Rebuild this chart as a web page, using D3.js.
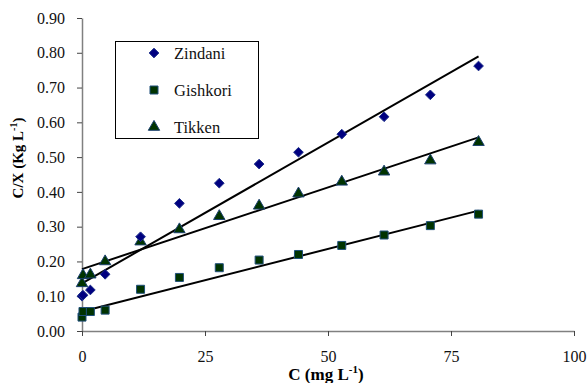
<!DOCTYPE html>
<html>
<head>
<meta charset="utf-8">
<script src="https://cdn.jsdelivr.net/npm/d3@7"></script>
<style>
  body { margin: 0; background: #fff; }
  svg text { font-family: "Liberation Serif", "Times New Roman", Times, serif; }
</style>
</head>
<body>
<svg id="vis"></svg>
<script>
// concentrations C (mg/L), shared by all three soils
const conc = [0, 0.2, 1.7, 4.7, 11.9, 19.8, 27.9, 36, 44, 52.8, 61.4, 70.8, 80.6];
const zindani = [0.100, 0.103, 0.118, 0.163, 0.271, 0.367, 0.425, 0.480, 0.514, 0.566, 0.616, 0.679, 0.762];
const gishkori = [0.040, 0.056, 0.056, 0.060, 0.120, 0.154, 0.182, 0.204, 0.220, 0.246, 0.276, 0.303, 0.336];
const tikken = [0.137, 0.160, 0.162, 0.200, 0.257, 0.292, 0.330, 0.360, 0.395, 0.429, 0.458, 0.490, 0.543];
const seriesNames = ["Zindani", "Gishkori", "Tikken"];
// linear trend lines
const trendIntercept = [0.137, 0.056, 0.178];
const trendSlope = [0.0081, 0.0036, 0.0047];
const xTicks = [0, 25, 50, 75, 100];
const yTicks = [0, 0.1, 0.2, 0.3, 0.4, 0.5, 0.6, 0.7, 0.8, 0.9];

const W = 588, H = 383;
const m = {left: 82, top: 18, right: 14, bottom: 52};
const svg = d3.select("#vis").attr("width", W).attr("height", H);

const x = d3.scaleLinear().domain([0, 100]).range([m.left, W - m.right]);
const y = d3.scaleLinear().domain([0, 0.9]).range([H - m.bottom, m.top]);

const styles = [
    {sym: d3.symbolDiamond2, size: 60, fill: "#000080", stroke: "#1c2e8a"},
    {sym: d3.symbolSquare, size: 64, fill: "#003300", stroke: "#1f4f7a"},
    {sym: d3.symbolTriangle, size: 56, fill: "#003300", stroke: "#1a3f6f"}
];

// axes
const yAxis = svg.append("g").attr("transform", `translate(${m.left},0)`)
    .call(d3.axisLeft(y).tickValues(yTicks).tickFormat(d3.format(".2f")).tickSize(5).tickSizeOuter(0));
const xAxis = svg.append("g").attr("transform", `translate(0,${H - m.bottom})`)
    .call(d3.axisBottom(x).tickValues(xTicks).tickSize(5).tickSizeOuter(0));
[xAxis, yAxis].forEach(a => {
    a.attr("font-family", null);
    a.select(".domain").attr("stroke", "#808080").attr("stroke-width", 1.5);
    a.selectAll(".tick line").attr("stroke", "#444");
    a.selectAll(".tick text").attr("font-size", 16).attr("fill", "#111");
});
yAxis.selectAll(".tick text").attr("x", -17);
xAxis.selectAll(".tick text").attr("y", 20);

// trend lines
const trendData = seriesNames.map((n, i) => [0, conc[conc.length - 1]].map(c => [c, trendIntercept[i] + trendSlope[i] * c]));
svg.append("g").selectAll("path").data(trendData).join("path")
    .attr("d", d3.line().x(d => x(d[0])).y(d => y(d[1])))
    .attr("fill", "none").attr("stroke", "#000").attr("stroke-width", 2);

// markers
const allSeries = [zindani, gishkori, tikken];
const drawOrder = [1, 2, 0];
drawOrder.forEach(i => {
    const st = styles[i];
    svg.append("g").selectAll("path").data(allSeries[i].map((v, j) => [conc[j], v])).join("path")
        .attr("transform", d => `translate(${x(d[0])},${y(d[1])})`)
        .attr("d", d3.symbol(st.sym, st.size))
        .attr("fill", st.fill).attr("stroke", st.stroke).attr("stroke-width", 1);
});

// legend
const lg = svg.append("g");
lg.append("rect").attr("x", 115.5).attr("y", 41.5).attr("width", 143).attr("height", 97)
    .attr("fill", "#fff").attr("stroke", "#000").attr("stroke-width", 1);
seriesNames.forEach((n, i) => {
    const yy = 53 + i * 37;
    const st = styles[i];
    lg.append("path").attr("transform", `translate(154,${yy})`)
        .attr("d", d3.symbol(st.sym, st.size))
        .attr("fill", st.fill).attr("stroke", st.stroke);
    lg.append("text").attr("x", 174).attr("y", yy + 5.5).attr("font-size", 16.5).attr("fill", "#111").text(n);
});

// axis titles
const xt = svg.append("text").attr("x", 326).attr("y", 380).attr("text-anchor", "middle")
    .attr("font-size", 17).attr("font-weight", "bold");
xt.append("tspan").text("C (mg L");
xt.append("tspan").attr("font-size", 11).attr("dy", -7).text("-1");
xt.append("tspan").attr("dy", 7).text(")");

const yt = svg.append("text").attr("transform", "translate(23,158) rotate(-90)").attr("text-anchor", "middle")
    .attr("font-size", 15).attr("font-weight", "bold");
yt.append("tspan").text("C/X (Kg L");
yt.append("tspan").attr("font-size", 10).attr("dy", -6).text("-1");
yt.append("tspan").attr("dy", 6).text(")");
</script>
</body>
</html>
